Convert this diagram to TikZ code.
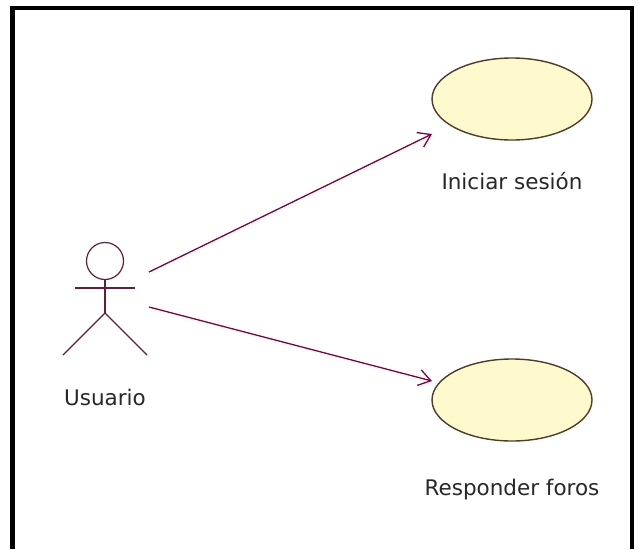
\documentclass[tikz,border=0pt]{standalone}
\usepackage{fontspec}
\setmainfont{DejaVu Sans}
\usetikzlibrary{shapes.geometric,arrows.meta}
\definecolor{assoc}{RGB}{128,0,64}
\definecolor{actorc}{RGB}{100,30,60}
\definecolor{ucfill}{RGB}{255,250,205}
\definecolor{ucdraw}{RGB}{80,60,40}
\definecolor{txt}{RGB}{40,40,40}
\tikzset{
  usecase/.style={ellipse, draw=ucdraw, fill=ucfill, line width=1.4pt, minimum width=160pt, minimum height=82pt, inner sep=0pt},
  lbl/.style={font=\fontsize{21.5}{24}\selectfont, text=txt, inner sep=0pt},
  assocline/.style={draw=assoc, line width=1.3pt, -{Straight Barb[length=12pt,width=16pt,line width=1.3pt]}},
  actorline/.style={draw=actorc, line width=1.2pt},
  frameline/.style={draw=black, line width=4.5pt}
}
\begin{document}
\begin{tikzpicture}[x=1pt,y=-1pt]
\useasboundingbox (0,0) rectangle (639,549);
\fill[white] (0,0) rectangle (639,549);
% frame
\draw[frameline] (12.5,549) -- (12.5,8) -- (632,8) -- (632,549);
% use cases
\node[usecase] (uc1) at (512,99) {};
\node[lbl] (uc1l) at (512,181) {Iniciar sesión};
\node[usecase] (uc2) at (512,400) {};
\node[lbl] (uc2l) at (512,490) {Responder foros};
% actor
\coordinate (usuario) at (105,261);
\draw[actorline] (usuario) circle (18.5pt);
\coordinate (neck) at (105,279.5);
\coordinate (hip) at (105,313);
\coordinate (armL) at (75,288);
\coordinate (armR) at (135,288);
\coordinate (legL) at (63,355);
\coordinate (legR) at (147,355);
\draw[actorline] (neck) -- (hip);
\draw[actorline] (armL) -- (armR);
\draw[actorline] (legL) -- (hip) -- (legR);
\node[lbl] (usuariol) at (105,397) {Usuario};
% associations
\coordinate (a1s) at (149,272);
\coordinate (a1e) at (432,134);
\coordinate (a2s) at (149,307);
\coordinate (a2e) at (432,381);
\draw[assocline] (a1s) -- (a1e);
\draw[assocline] (a2s) -- (a2e);
\end{tikzpicture}
\end{document}
